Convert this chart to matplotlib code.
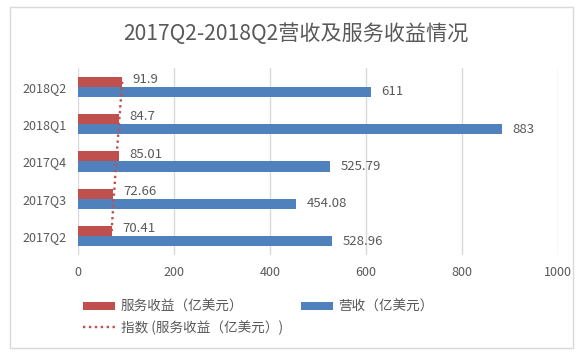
import numpy as np
import matplotlib
matplotlib.use('Agg')
import matplotlib.pyplot as plt
from matplotlib.patches import Rectangle

plt.rcParams['font.family'] = ['Noto Sans CJK SC', 'DejaVu Sans']

quarters = ['2017Q2', '2017Q3', '2017Q4', '2018Q1', '2018Q2']
service = [70.41, 72.66, 85.01, 84.7, 91.9]
revenue = [528.96, 454.08, 525.79, 883, 611]
service_labels = ['70.41', '72.66', '85.01', '84.7', '91.9']
revenue_labels = ['528.96', '454.08', '525.79', '883', '611']

red = '#C0504D'
blue = '#4F81BD'
txt = '#595959'

fig = plt.figure(figsize=(5.86, 3.53), dpi=100)
ax = fig.add_axes([0.133, 0.278, 0.819, 0.529])

y = np.arange(len(quarters))
h = 0.27
b1 = ax.barh(y + h / 2, service, height=h, color=red, label='服务收益（亿美元）')
b2 = ax.barh(y - h / 2, revenue, height=h, color=blue, label='营收（亿美元）')

# exponential trendline on the service series
k, c = np.polyfit(y + 1, np.log(service), 1)
trend = np.exp(c + k * (y + 1))
tl, = ax.plot(trend, y + h / 2, color=red, linestyle=(0, (1, 1.5)), linewidth=1.7,
              label='指数 (服务收益（亿美元）)')

for yi, v, s in zip(y, service, service_labels):
    ax.text(v + 22, yi + h / 2 + 0.06, s, va='center', ha='left', fontsize=9.5, color=txt)
for yi, v, s in zip(y, revenue, revenue_labels):
    ax.text(v + 22, yi - h / 2, s, va='center', ha='left', fontsize=9.5, color=txt)

ax.set_xlim(0, 1000)
ax.set_ylim(-0.5, 4.5)
ax.set_xticks(range(0, 1001, 200))
ax.set_yticks(y)
ax.set_yticklabels(quarters)
ax.tick_params(length=0, labelsize=9, colors=txt, pad=8)
ax.xaxis.grid(True, color='#D9D9D9', linewidth=1)
ax.set_axisbelow(True)
for sp in ax.spines.values():
    sp.set_visible(False)

fig.text(0.505, 0.905, '2017Q2-2018Q2营收及服务收益情况', ha='center', va='center',
         fontsize=15.2, color=txt)

fig.legend(handles=[b1, tl, b2], ncol=2, loc='upper left', bbox_to_anchor=(0.12, 0.185),
           frameon=False, fontsize=9.8, labelcolor=txt, handlelength=2.4, handleheight=0.55,
           columnspacing=1.3, handletextpad=0.4, labelspacing=0.45)

fig.patches.append(Rectangle((10 / 586, 5 / 353), 563 / 586, 341 / 353, transform=fig.transFigure,
                             fill=False, edgecolor='#D9D9D9', linewidth=1))

plt.savefig('out.png', dpi=100)
